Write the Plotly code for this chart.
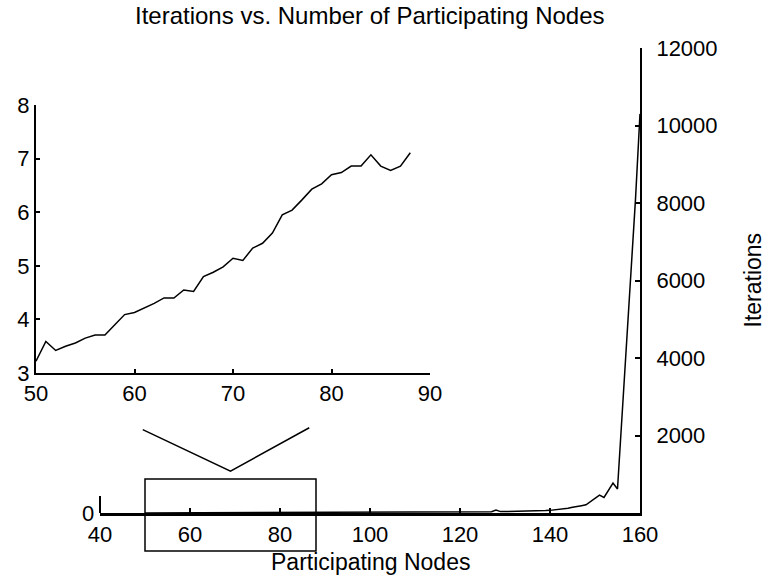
import plotly.graph_objects as go

# ---- data -------------------------------------------------------------
# Average iterations for 50..88 participating nodes (detail view)
inset_nodes = list(range(50, 89))
inset_iters = [3.22, 3.59, 3.42, 3.50, 3.56, 3.65, 3.71, 3.71, 3.90, 4.09,
               4.13, 4.21, 4.30, 4.40, 4.40, 4.55, 4.52, 4.80, 4.88, 4.98,
               5.14, 5.10, 5.33, 5.42, 5.61, 5.95, 6.04, 6.23, 6.43, 6.53,
               6.70, 6.74, 6.86, 6.86, 7.07, 6.86, 6.78, 6.86, 7.11]

# Iterations for 89..160 participating nodes
tail_nodes = list(range(89, 161))
tail_iters = [7.3, 7.6, 7.9, 8.2, 8.5, 8.8, 9.2, 9.5, 9.9, 10.3,
              10.7, 11.1, 11.5, 12.0, 12.4, 12.9, 13.4, 13.9, 14.5, 15.1,
              15.7, 16.3, 17.0, 17.7, 18.4, 19.2, 20.0, 20.8, 21.7, 22.6,
              23.6, 24.6, 25.7, 26.8, 28.0, 29.3, 30.6, 32.0, 34.0, 75.0,
              36.0, 37.0, 38.0, 39.0, 40.0, 42.0, 45.0, 52.0, 55.0, 58.0,
              62.0, 68.0, 80.0, 95.0, 110.0, 125.0, 150.0, 180.0, 190.0, 210.0,
              300.0, 390.0, 460.0, 400.0, 600.0, 770.0, 620.0, 2500.0, 4100.0, 6200.0,
              8100.0, 10300.0]

main_nodes = inset_nodes + tail_nodes
main_iters = inset_iters + tail_iters

main_xticks = [40, 60, 80, 100, 120, 140, 160]
main_yticks = [2000, 4000, 6000, 8000, 10000, 12000]
inset_xticks = [50, 60, 70, 80, 90]
inset_yticks = [3, 4, 5, 6, 7, 8]

# zoom-region marker (in main-axis data units)
box_x = [50, 88]
box_y = [-980, 880]
pointer_x = [49.5, 69, 86.5]
pointer_y = [2150, 1080, 2200]

# ---- layout geometry ---------------------------------------------------
W, H = 769, 579
main_xrange = [40, 160]
main_yrange = [0, 12000]
main_xdom = [100 / W, 640 / W]
main_ydom = [(H - 513) / H, (H - 48) / H]

inset_xrange = [50, 90]
inset_yrange = [3, 8]
inset_xdom = [36 / W, 430 / W]
inset_ydom = [(H - 373) / H, (H - 105) / H]


def px(v, rng=main_xrange, dom=main_xdom):
    return dom[0] + (v - rng[0]) / (rng[1] - rng[0]) * (dom[1] - dom[0])


def py(v, rng=main_yrange, dom=main_ydom):
    return dom[0] + (v - rng[0]) / (rng[1] - rng[0]) * (dom[1] - dom[0])


FONT = "Liberation Sans, Arial, sans-serif"
TICK_FONT = dict(family=FONT, size=22, color="black")
TITLE_FONT = dict(family=FONT, size=24, color="black")
LABEL_FONT = dict(family=FONT, size=23, color="black")

fig = go.Figure()

fig.add_trace(go.Scatter(x=main_nodes, y=main_iters, mode="lines",
                         line=dict(color="black", width=1.5),
                         xaxis="x", yaxis="y", showlegend=False,
                         hoverinfo="x+y"))

fig.add_trace(go.Scatter(x=inset_nodes, y=inset_iters, mode="lines",
                         line=dict(color="black", width=1.5),
                         xaxis="x2", yaxis="y2", showlegend=False,
                         hoverinfo="x+y"))

# V-shaped pointer from the detail view down to the boxed region
fig.add_trace(go.Scatter(x=pointer_x, y=pointer_y, mode="lines",
                         line=dict(color="black", width=1.5),
                         xaxis="x", yaxis="y", showlegend=False,
                         hoverinfo="skip"))

axis_common = dict(showgrid=False, zeroline=False, showline=True,
                   automargin=False,
                   linecolor="black", ticks="inside", tickcolor="black",
                   tickfont=TICK_FONT)

fig.update_layout(
    template="none",
    width=W, height=H,
    margin=dict(l=0, r=0, t=0, b=0, autoexpand=False),
    paper_bgcolor="white", plot_bgcolor="white",
    xaxis=dict(domain=main_xdom, range=main_xrange, tickvals=main_xticks,
               anchor="y", linewidth=2.5, ticklen=5, tickwidth=1.5,
               **axis_common),
    yaxis=dict(domain=main_ydom, range=main_yrange, tickvals=main_yticks,
               ticktext=[str(v) for v in main_yticks],
               side="right", anchor="x", linewidth=2, ticklen=5, tickwidth=1.5,
               ticklabelstandoff=10,
               **axis_common),
    xaxis2=dict(domain=inset_xdom, range=inset_xrange, tickvals=inset_xticks,
                anchor="y2", linewidth=2, ticklen=4, tickwidth=1.5,
                **axis_common),
    yaxis2=dict(domain=inset_ydom, range=inset_yrange, tickvals=inset_yticks,
                anchor="x2", linewidth=2, ticklen=4, tickwidth=1.5,
                **axis_common),
    annotations=[
        dict(text="Iterations vs. Number of Participating Nodes",
             x=px(100), y=(H - 16) / H, xref="paper", yref="paper",
             showarrow=False, xanchor="center", yanchor="middle",
             font=TITLE_FONT),
        dict(text="Participating Nodes",
             x=px(100), y=(H - 562) / H, xref="paper", yref="paper",
             showarrow=False, xanchor="center", yanchor="middle",
             font=LABEL_FONT),
        dict(text="Iterations", textangle=-90,
             x=753 / W, y=py(6000), xref="paper", yref="paper",
             showarrow=False, xanchor="center", yanchor="middle",
             font=LABEL_FONT),
        dict(text="0", x=px(40), y=py(0), xref="paper", yref="paper",
             xshift=-4, showarrow=False, xanchor="right", yanchor="middle",
             font=TICK_FONT),
    ],
    shapes=[
        dict(type="rect", xref="paper", yref="paper",
             x0=px(box_x[0]), x1=px(box_x[1]), y0=py(box_y[0]), y1=py(box_y[1]),
             line=dict(color="black", width=1.5), fillcolor="rgba(0,0,0,0)"),
        dict(type="line", xref="paper", yref="paper",
             x0=px(40), x1=px(40), y0=py(0), y1=py(440),
             line=dict(color="black", width=2)),
    ],
)

fig.write_html("out.html")
